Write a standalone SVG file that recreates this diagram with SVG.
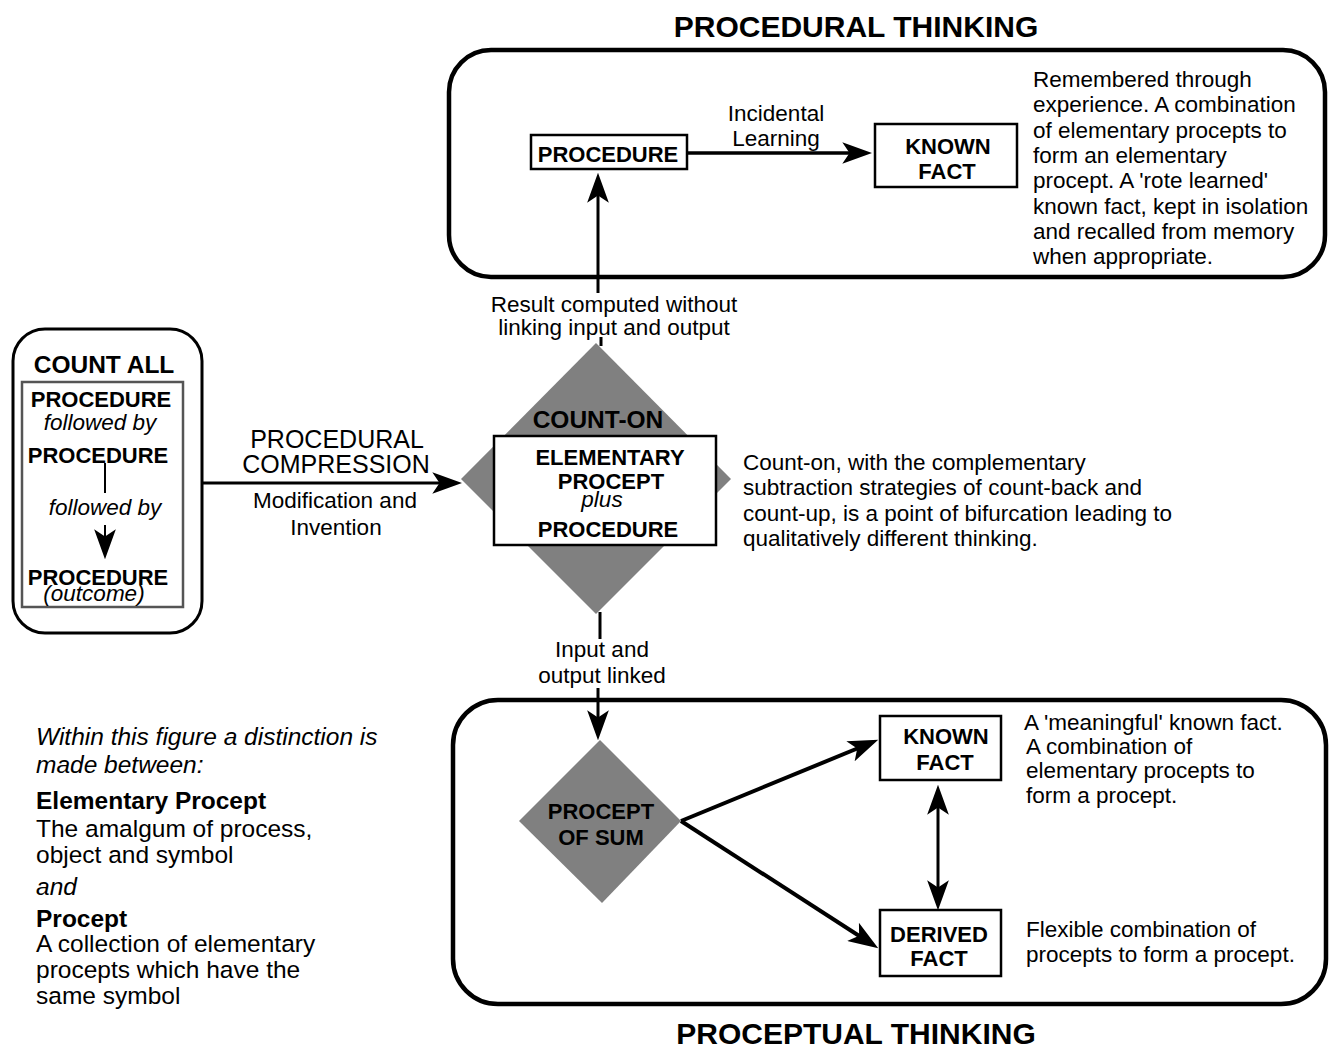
<svg xmlns="http://www.w3.org/2000/svg" width="1329" height="1048" viewBox="0 0 1329 1048">
<defs>
<style>
text{font-family:"Liberation Sans",Arial,Helvetica,sans-serif;fill:#000}
.t{font-size:22.5px}
.b{font-size:22px;font-weight:bold}
.i{font-style:italic}
.m{text-anchor:middle}
.title{font-size:30px;font-weight:bold;text-anchor:middle}
.frame{fill:none;stroke:#000;stroke-width:4.5}
.box{fill:#fff;stroke:#000;stroke-width:2.5}
.dia{fill:#808080;stroke:none}
.conn{fill:none;stroke:#000;stroke-width:3}
.thick{stroke-width:4}
.left{font-size:24.5px}
</style>
<marker id="ah" markerUnits="userSpaceOnUse" markerWidth="30" markerHeight="22" viewBox="0 0 29 21" refX="21" refY="10.5" orient="auto-start-reverse">
<path d="M0,0 L29,10.5 L0,21 L7,10.5 z" fill="#000"/>
</marker>
</defs>
<rect width="1329" height="1048" fill="#fff"/>

<g id="procedural-thinking">
<text class="title" x="856" y="37">PROCEDURAL THINKING</text>
<rect class="frame" x="449" y="50" width="876" height="227" rx="42"/>
</g>

<g id="proceptual-thinking">
<rect class="frame" x="453" y="700" width="873" height="304" rx="45"/>
<text class="title" x="856" y="1044">PROCEPTUAL THINKING</text>
</g>

<g id="procedure-top">
<rect class="box" x="531" y="135" width="156" height="34"/>
<text class="b m" x="608" y="162">PROCEDURE</text>
</g>

<g id="known-fact-top">
<rect class="box" x="875" y="124" width="142" height="63"/>
<text class="b m" x="948" y="154">KNOWN</text>
<text class="b m" x="947" y="179">FACT</text>
</g>

<g id="known-fact-top-note">
<text class="t" x="1033" y="87">Remembered through</text>
<text class="t" x="1033" y="112">experience. A combination</text>
<text class="t" x="1033" y="138">of elementary procepts to</text>
<text class="t" x="1033" y="163">form an elementary</text>
<text class="t" x="1033" y="188">procept. A 'rote learned'</text>
<text class="t" x="1033" y="214">known fact, kept in isolation</text>
<text class="t" x="1033" y="239">and recalled from memory</text>
<text class="t" x="1033" y="264">when appropriate.</text>
</g>

<g id="count-all">
<rect fill="none" stroke="#000" stroke-width="3" x="13" y="329" width="189" height="304" rx="32"/>
<text class="m" x="104" y="373" style="font-size:24.5px;font-weight:bold">COUNT ALL</text>
<rect fill="none" stroke="#555" stroke-width="2.5" x="22" y="382" width="161" height="225"/>
<text class="b m" x="101" y="407">PROCEDURE</text>
<text class="t i m" x="100" y="430">followed by</text>
<text class="b m" x="98" y="463">PROCEDURE</text>
<line x1="105" y1="463" x2="105" y2="493" stroke="#000" stroke-width="2"/>
<text class="t i m" x="105" y="515">followed by</text>
<line x1="105" y1="525" x2="105" y2="551" stroke="#000" stroke-width="2" marker-end="url(#ah)"/>
<text class="b m" x="98" y="585">PROCEDURE</text>
<text class="t i m" x="94" y="601">(outcome)</text>
</g>

<g id="count-on">
<polygon class="dia" points="596,343 731,479 596,614 461,479"/>
<text class="m" x="598" y="428" style="font-size:24.5px;font-weight:bold">COUNT-ON</text>
<rect class="box" x="494" y="436" width="222" height="109"/>
<text class="b m" x="610" y="465">ELEMENTARY</text>
<text class="b m" x="611" y="489">PROCEPT</text>
<text class="t i m" x="602" y="507">plus</text>
<text class="b m" x="608" y="537">PROCEDURE</text>
</g>

<g id="count-on-note">
<text class="t" x="743" y="470">Count-on, with the complementary</text>
<text class="t" x="743" y="495">subtraction strategies of count-back and</text>
<text class="t" x="743" y="521">count-up, is a point of bifurcation leading to</text>
<text class="t" x="743" y="546">qualitatively different thinking.</text>
</g>

<g id="procept-of-sum">
<polygon class="dia" points="600,740 681,821 602,903 519,821"/>
<text class="b m" x="601" y="819">PROCEPT</text>
<text class="b m" x="601" y="845">OF SUM</text>
</g>

<g id="known-fact-bottom">
<rect class="box" x="880" y="716" width="121" height="64"/>
<text class="b m" x="946" y="744">KNOWN</text>
<text class="b m" x="945" y="770">FACT</text>
</g>
<g id="known-fact-bottom-note">
<text class="t" x="1024" y="730">A 'meaningful' known fact.</text>
<text class="t" x="1026" y="754">A combination of</text>
<text class="t" x="1026" y="778">elementary procepts to</text>
<text class="t" x="1026" y="803">form a procept.</text>
</g>

<g id="derived-fact">
<rect class="box" x="880" y="910" width="121" height="66"/>
<text class="b m" x="939" y="942">DERIVED</text>
<text class="b m" x="939" y="966">FACT</text>
</g>
<g id="derived-fact-note">
<text class="t" x="1026" y="937">Flexible combination of</text>
<text class="t" x="1026" y="962">procepts to form a procept.</text>
</g>

<g id="definitions">
<text class="left i" x="36" y="745">Within this figure a distinction is</text>
<text class="left i" x="36" y="773">made between:</text>
<text class="left" x="36" y="809" font-weight="bold">Elementary Procept</text>
<text class="left" x="36" y="837">The amalgum of process,</text>
<text class="left" x="36" y="863">object and symbol</text>
<text class="left i" x="36" y="895">and</text>
<text class="left" x="36" y="927" font-weight="bold">Procept</text>
<text class="left" x="36" y="952">A collection of elementary</text>
<text class="left" x="36" y="978">procepts which have the</text>
<text class="left" x="36" y="1004">same symbol</text>
</g>

<g id="connectors">
<line class="conn" x1="202" y1="483" x2="454" y2="483" marker-end="url(#ah)"/>
<text class="m" x="337" y="448" style="font-size:25px">PROCEDURAL</text>
<text class="m" x="336" y="473" style="font-size:25px">COMPRESSION</text>
<text class="t m" x="335" y="508">Modification and</text>
<text class="t m" x="336" y="535">Invention</text>

<line class="conn" x1="601" y1="337" x2="601" y2="346"/>
<line class="conn" x1="598" y1="293" x2="598" y2="181" marker-end="url(#ah)"/>
<text class="t m" x="614" y="312">Result computed without</text>
<text class="t m" x="614" y="335">linking input and output</text>

<line class="conn" x1="687" y1="153" x2="864" y2="153" style="stroke-width:3.5" marker-end="url(#ah)"/>
<text class="t m" x="776" y="121">Incidental</text>
<text class="t m" x="776" y="146">Learning</text>

<line class="conn" x1="600" y1="612" x2="600" y2="639"/>
<text class="t m" x="602" y="657">Input and</text>
<text class="t m" x="602" y="683">output linked</text>
<line class="conn" x1="598" y1="688" x2="598" y2="732" marker-end="url(#ah)"/>

<line class="conn thick" x1="681" y1="821" x2="870.6" y2="743.0" marker-end="url(#ah)"/>
<line class="conn thick" x1="681" y1="821" x2="871.3" y2="943.7" marker-end="url(#ah)"/>
<line class="conn" x1="938" y1="793" x2="938" y2="902" marker-start="url(#ah)" marker-end="url(#ah)"/>
</g>
</svg>
